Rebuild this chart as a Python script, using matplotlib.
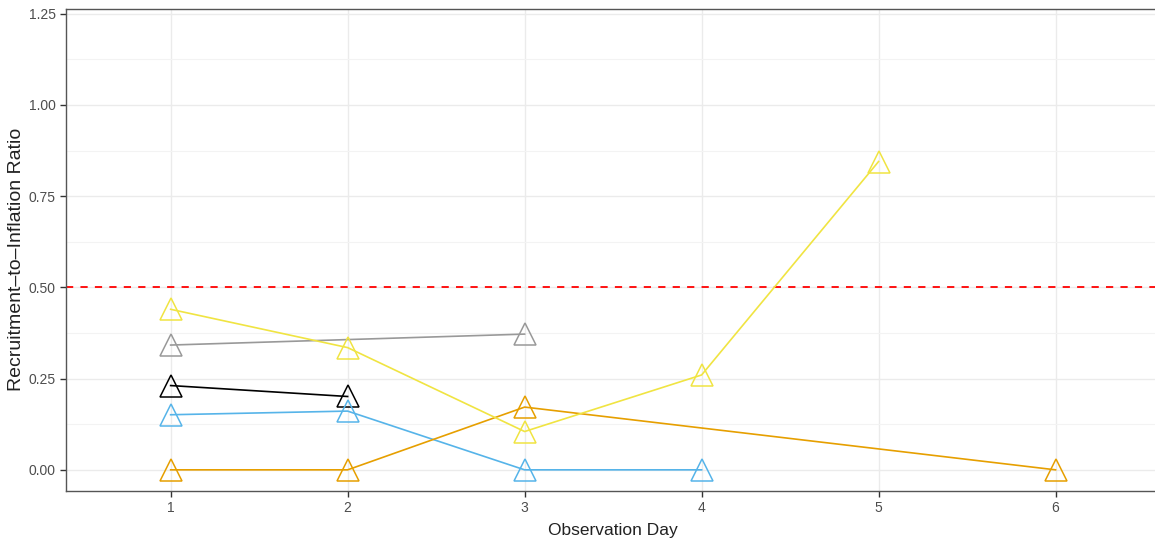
import numpy as np
import matplotlib
matplotlib.use('Agg')
import matplotlib.pyplot as plt
from matplotlib.ticker import MultipleLocator

# series values
gray_day = [1, 3]
gray_ratio = [0.342, 0.372]
black_day = [1, 2]
black_ratio = [0.231, 0.201]
blue_day = [1, 2, 3, 4]
blue_ratio = [0.151, 0.161, 0.0, 0.0]
orange_day = [1, 2, 3, 6]
orange_ratio = [0.0, 0.0, 0.172, 0.0]
yellow_day = [1, 2, 3, 4, 5]
yellow_ratio = [0.44, 0.335, 0.105, 0.26, 0.845]
threshold = 0.5

series = [
    (gray_day, gray_ratio, '#999999'),
    (black_day, black_ratio, '#000000'),
    (blue_day, blue_ratio, '#56B4E9'),
    (orange_day, orange_ratio, '#E69F00'),
    (yellow_day, yellow_ratio, '#F0E442'),
]

plt.rcParams['font.family'] = ['Liberation Sans', 'DejaVu Sans']
fig = plt.figure(figsize=(11.55, 5.4), dpi=100)
ax = fig.add_axes([65.7/1155, 49/540, (1160-65.7)/1155, 482/540])

for d, r, c in series:
    ax.plot(d, r, color=c, lw=1.2, zorder=3)
    ax.plot(d, r, linestyle='none', marker='^', markersize=16,
            markerfacecolor='none', markeredgecolor=c, markeredgewidth=1.1, zorder=4)

ax.axhline(threshold, color='#FF0000', lw=1.3, linestyle=(0, (4, 4)), zorder=2)

ax.set_xlim(0.407, 6.59)
ax.set_ylim(-0.058, 1.263)
ax.set_xticks([1, 2, 3, 4, 5, 6])
ax.yaxis.set_minor_locator(MultipleLocator(0.125))
ax.set_yticks([0, 0.25, 0.5, 0.75, 1.0, 1.25])
ax.set_yticklabels(['0.00', '0.25', '0.50', '0.75', '1.00', '1.25'])

ax.grid(which='major', color='#EBEBEB', lw=1.0, zorder=0)
ax.grid(which='minor', axis='y', color='#F3F3F3', lw=0.8, zorder=0)
ax.set_axisbelow(True)

for s in ['left', 'top', 'bottom']:
    ax.spines[s].set_color('#555555')
    ax.spines[s].set_linewidth(1.0)
ax.spines['right'].set_visible(False)

ax.tick_params(axis='both', which='major', length=4, width=1.0, color='#333333',
               labelsize=10, labelcolor='#4D4D4D', pad=3)
ax.tick_params(axis='y', which='minor', length=0)

ax.set_xlabel('Observation Day', fontsize=12.5, color='#222222', labelpad=6)
ax.set_ylabel('Recruitment\u2013to\u2013Inflation Ratio', fontsize=14, color='#222222')
ax.yaxis.set_label_coords(-0.037, 0.48)

fig.savefig('out.png', dpi=100)
